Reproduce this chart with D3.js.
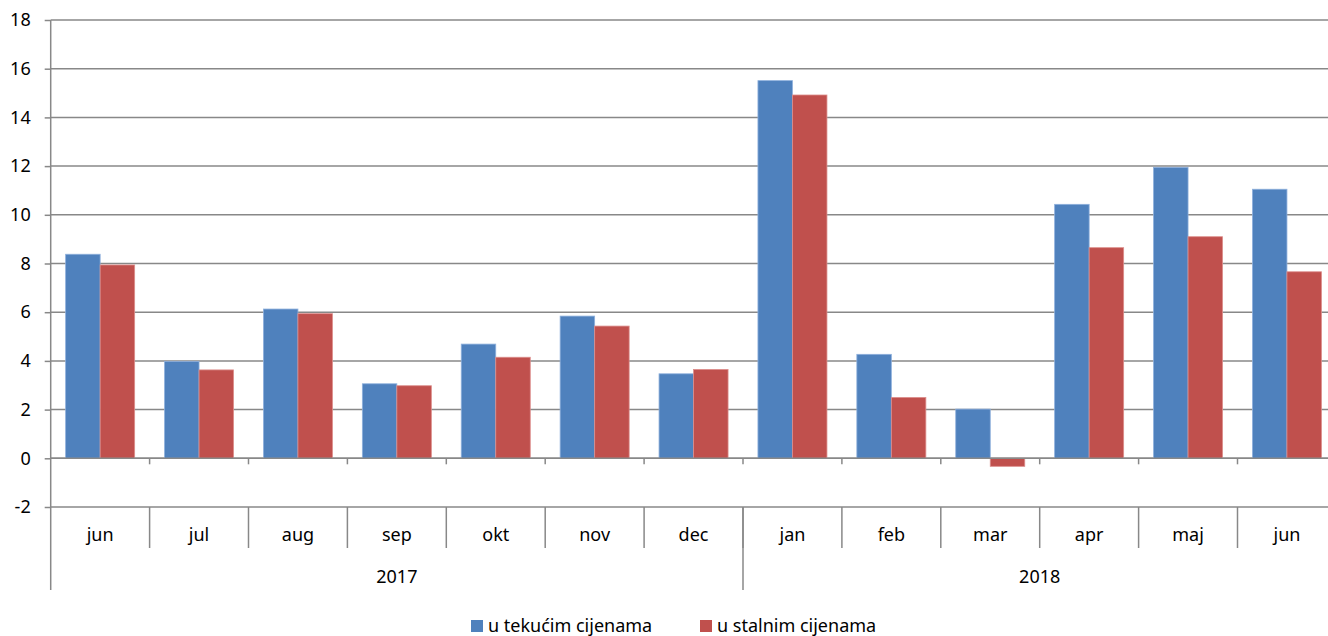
<!DOCTYPE html>
<html>
<head>
<meta charset="utf-8">
<script src="https://cdn.jsdelivr.net/npm/d3@7"></script>
<style>
  body { margin: 0; background: #fff; }
  svg { display: block; font-family: "Noto Sans", sans-serif; }
</style>
</head>
<body>
<div id="chart"></div>
<script>
// chart data
var months = ["jun", "jul", "aug", "sep", "okt", "nov", "dec", "jan", "feb", "mar", "apr", "maj", "jun"];
var years = ["2017", "2018"];
var yearSpans = [7, 6];
var seriesNames = ["u tekućim cijenama", "u stalnim cijenama"];
var tekuce = [8.38, 3.98, 6.13, 3.06, 4.69, 5.84, 3.47, 15.51, 4.27, 2.02, 10.43, 11.95, 11.05];
var stalne = [7.94, 3.63, 5.94, 2.98, 4.15, 5.43, 3.65, 14.92, 2.5, -0.33, 8.65, 9.1, 7.66];
var yTicks = [-2, 0, 2, 4, 6, 8, 10, 12, 14, 16, 18];

var colors = ["#4F81BD", "#C0504D"];
var strokes = ["#8eb0dc", "#dc8e8c"];
var gridColor = "#888888";
var fontSize = 18;

var svgWidth = 1328;
var svgHeight = 636;

var plotLeft = 50.7;
var plotRight = 1336.4;
var plotTop = 20;
var plotBottom = 507;

var svg = d3.select("#chart")
    .append("svg")
    .attr("width", svgWidth)
    .attr("height", svgHeight);

// scales
var x0 = d3.scaleBand()
    .domain(d3.range(months.length))
    .range([plotLeft, plotRight])
    .padding(0);

var x1 = d3.scaleBand()
    .domain([0, 1])
    .range([0, x0.bandwidth()])
    .paddingInner(0)
    .paddingOuter(0.433);

var y = d3.scaleLinear()
    .domain([-2, 18])
    .range([plotBottom, plotTop]);

// gridlines
svg.append("g")
    .selectAll("line")
    .data(yTicks)
    .enter()
    .append("line")
    .attr("x1", plotLeft)
    .attr("x2", plotRight)
    .attr("y1", d => y(d))
    .attr("y2", d => y(d))
    .attr("stroke", gridColor)
    .attr("stroke-width", 1.5);

// y axis
var leftAxis = d3.axisLeft(y)
    .tickValues(yTicks)
    .tickSize(6)
    .tickPadding(14)
    .tickFormat(d => String(d));

var yAxis = svg.append("g")
    .attr("transform", `translate(${plotLeft}, 0)`)
    .call(leftAxis);

yAxis.select(".domain").remove();
yAxis.selectAll("line").attr("stroke", gridColor).attr("stroke-width", 1.5);
yAxis.selectAll("text")
    .attr("font-size", fontSize)
    .attr("fill", "#000")
    .attr("font-family", "Noto Sans");

// bars
var seriesData = [tekuce, stalne];
seriesData.forEach(function(values, s) {
    svg.append("g")
        .selectAll("rect")
        .data(values)
        .enter()
        .append("rect")
        .attr("x", (d, i) => x0(i) + x1(s))
        .attr("y", d => y(Math.max(0, d)))
        .attr("width", x1.bandwidth())
        .attr("height", d => Math.abs(y(d) - y(0)))
        .attr("fill", colors[s])
        .attr("stroke", strokes[s])
        .attr("stroke-width", 0.8);
});

// category axis at zero
svg.append("line")
    .attr("x1", plotLeft)
    .attr("x2", plotRight)
    .attr("y1", y(0))
    .attr("y2", y(0))
    .attr("stroke", gridColor)
    .attr("stroke-width", 1.5);

svg.append("g")
    .selectAll("line")
    .data(d3.range(1, months.length + 1))
    .enter()
    .append("line")
    .attr("x1", d => plotLeft + d * x0.step())
    .attr("x2", d => plotLeft + d * x0.step())
    .attr("y1", y(0))
    .attr("y2", y(0) + 6)
    .attr("stroke", gridColor)
    .attr("stroke-width", 1.5);

// vertical value axis line
svg.append("line")
    .attr("x1", plotLeft)
    .attr("x2", plotLeft)
    .attr("y1", plotTop)
    .attr("y2", 590)
    .attr("stroke", gridColor)
    .attr("stroke-width", 1.5);

// month separators and labels
svg.append("g")
    .selectAll("line")
    .data(d3.range(1, months.length + 1))
    .enter()
    .append("line")
    .attr("x1", d => plotLeft + d * x0.step())
    .attr("x2", d => plotLeft + d * x0.step())
    .attr("y1", plotBottom)
    .attr("y2", 548)
    .attr("stroke", gridColor)
    .attr("stroke-width", 1.5);

svg.append("g")
    .selectAll("text")
    .data(months)
    .enter()
    .append("text")
    .attr("x", (d, i) => x0(i) + x0.bandwidth() / 2)
    .attr("y", 535)
    .attr("dy", "0.35em")
    .attr("text-anchor", "middle")
    .attr("font-size", fontSize)
    .text(d => d);

// year separators and labels
var yearStarts = [0];
yearSpans.forEach(function(n, i) { yearStarts.push(yearStarts[i] + n); });

svg.append("g")
    .selectAll("line")
    .data(yearStarts.slice(1))
    .enter()
    .append("line")
    .attr("x1", d => plotLeft + d * x0.step())
    .attr("x2", d => plotLeft + d * x0.step())
    .attr("y1", plotBottom)
    .attr("y2", 590)
    .attr("stroke", gridColor)
    .attr("stroke-width", 1.5);

svg.append("g")
    .selectAll("text")
    .data(years)
    .enter()
    .append("text")
    .attr("x", (d, i) => plotLeft + (yearStarts[i] + yearSpans[i] / 2) * x0.step())
    .attr("y", 577)
    .attr("dy", "0.35em")
    .attr("text-anchor", "middle")
    .attr("font-size", fontSize)
    .text(d => d);

// legend
var legendX = [471, 700];
var legend = svg.append("g");
seriesNames.forEach(function(name, s) {
    legend.append("rect")
        .attr("x", legendX[s])
        .attr("y", 620)
        .attr("width", 12)
        .attr("height", 12)
        .attr("fill", colors[s]);
    legend.append("text")
        .attr("x", legendX[s] + 17)
        .attr("y", 626)
        .attr("dy", "0.35em")
        .attr("font-size", fontSize)
        .text(name);
});
</script>
</body>
</html>
